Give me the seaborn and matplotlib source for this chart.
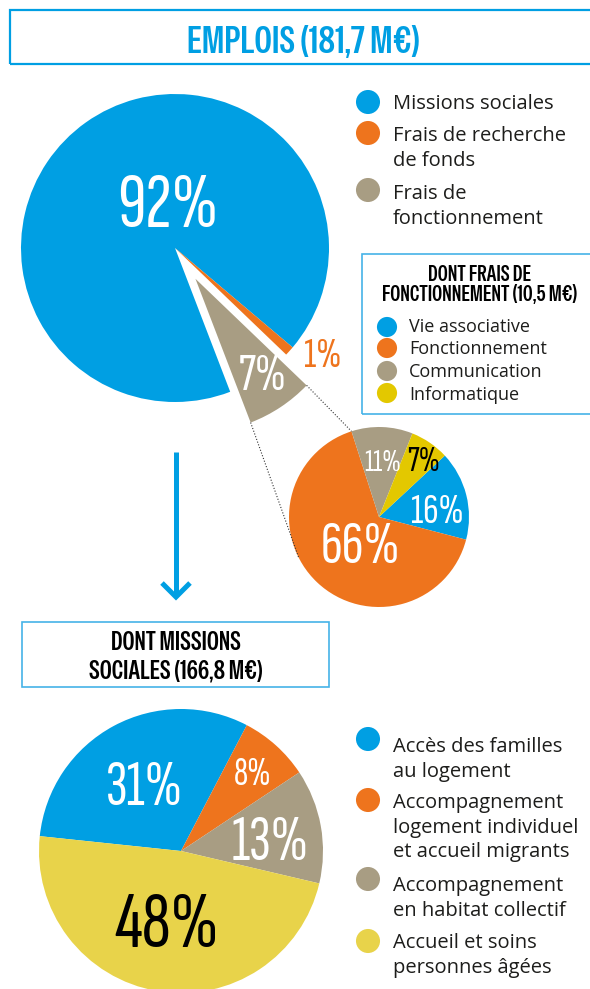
import numpy as np
import matplotlib
matplotlib.use('Agg')
import matplotlib.pyplot as plt
from matplotlib.patches import Rectangle
import seaborn as sns

# colours
BLUE = '#009fe3'
ORANGE = '#ee741d'
GREY = '#a89d83'
YELLOW_IT = '#e3c800'
YELLOW = '#e8d34a'
FRAME = '#45b3e8'

# data
emplois_total = '181,7 M€'
emplois_labels = ['Missions sociales', 'Frais de recherche\nde fonds', 'Frais de\nfonctionnement']
emplois_pct = [92, 1, 7]
emplois_colors = [BLUE, ORANGE, GREY]

fonct_total = '10,5 M€'
fonct_labels = ['Vie associative', 'Fonctionnement', 'Communication', 'Informatique']
fonct_pct = [16, 66, 11, 7]
fonct_colors = [BLUE, ORANGE, GREY, YELLOW_IT]

missions_total = '166,8 M€'
missions_labels = ['Accès des familles\nau logement',
                   'Accompagnement\nlogement individuel\net accueil migrants',
                   'Accompagnement\nen habitat collectif',
                   'Accueil et soins\npersonnes âgées']
missions_pct = [31, 8, 13, 48]
missions_colors = [BLUE, ORANGE, GREY, YELLOW]

sns.set_theme(style='white')
plt.rcParams['font.family'] = ['Open Sans', 'DejaVu Sans']
NUMF = ['Sofia Sans Extra Condensed', 'DejaVu Sans']
HEADF = ['Special Gothic Condensed One', 'DejaVu Sans']

W, H = 590, 989
fig = plt.figure(figsize=(W / 100, H / 100), dpi=100)
ax = fig.add_axes([0, 0, 1, 1])


def Y(y):
    # image rows -> axis units (y up)
    return H - y


def pct_text(x, y, val, size, color):
    ax.text(x, Y(y), f'{val}%', fontsize=size, color=color, family=NUMF,
            ha='center', va='baseline')


def legend_block(x_dot, x_txt, dots_y, base_y, labels, colors, step, size, dot_s):
    ax.scatter([x_dot] * len(labels), [Y(v) for v in dots_y], s=dot_s, c=colors,
               linewidths=0, zorder=5)
    for lab, by in zip(labels, base_y):
        for i, line in enumerate(lab.split('\n')):
            ax.text(x_txt, Y(by + i * step), line, fontsize=size, color='#1d1d1b',
                    ha='left', va='baseline')


# main pie
R1, C1 = 154, (175, 248)
w1, _ = ax.pie(emplois_pct, colors=emplois_colors, startangle=291, counterclock=False,
               explode=[0, 0, 0.24 * R1], radius=R1, center=(C1[0], Y(C1[1])),
               wedgeprops=dict(linewidth=0))
pct_text(168, 227, emplois_pct[0], 57, 'white')
pct_text(323, 367, emplois_pct[1], 31, ORANGE)
pct_text(263, 390, emplois_pct[2], 38, 'white')

# operating costs pie
R2, C2 = 90, (379, 517)
w2, _ = ax.pie(fonct_pct, colors=fonct_colors, startangle=43, counterclock=False,
               radius=R2, center=(C2[0], Y(C2[1])), wedgeprops=dict(linewidth=0))
pct_text(437, 523, fonct_pct[0], 31, 'white')
pct_text(360, 563, fonct_pct[1], 44, 'white')
pct_text(383, 471, fonct_pct[2], 23, 'white')
pct_text(424, 471, fonct_pct[3], 26, 'black')

# social missions pie
R3, C3 = 142, (181, 851)
w3, _ = ax.pie(missions_pct, colors=missions_colors, startangle=174, counterclock=False,
               radius=R3, center=(C3[0], Y(C3[1])), wedgeprops=dict(linewidth=0))
pct_text(144, 805, missions_pct[0], 46, 'white')
pct_text(253, 785, missions_pct[1], 29, 'white')
pct_text(270, 860, missions_pct[2], 46, 'white')
pct_text(167, 947, missions_pct[3], 59, 'black')

# dotted connectors from the exploded wedge to the zoom pie
g = w1[2]
small_gray = w2[2]
a_top = np.radians(small_gray.theta2)
a_low = np.radians(207)
for th, ang in [(g.theta2, a_top), (g.theta1, a_low)]:
    t = np.radians(th)
    x0 = g.center[0] + g.r * np.cos(t)
    y0 = g.center[1] + g.r * np.sin(t)
    x1 = w2[0].center[0] + R2 * np.cos(ang)
    y1 = w2[0].center[1] + R2 * np.sin(ang)
    ax.plot([x0, x1], [y0, y1], color='#333333', lw=0.8, ls=(0, (1, 1.6)), zorder=1)

ax.set_xlim(0, W)
ax.set_ylim(0, H)
ax.set_aspect('auto')
ax.axis('off')

# title box
ax.add_patch(Rectangle((9.5, Y(64)), 600, 54, fill=False, ec=BLUE, lw=1.6, clip_on=False))
ax.text(303, Y(53), f'EMPLOIS ({emplois_total})', fontsize=27, color=BLUE,
        family=HEADF, ha='center', va='baseline')

# main legend
legend_block(368, 393, [102, 133, 190], [109, 141, 199], emplois_labels, emplois_colors,
             24.5, 14.5, 300)

# operating costs box
ax.add_patch(Rectangle((362, Y(414)), 240, 160, fill=False, ec=FRAME, lw=1.2, clip_on=False))
ax.text(480, Y(281), 'DONT FRAIS DE', fontsize=15.5, family=HEADF,
        color='black', ha='center', va='baseline')
ax.text(480, Y(301), f'FONCTIONNEMENT ({fonct_total})', fontsize=15.5, family=HEADF,
        color='black', ha='center', va='baseline')
legend_block(387, 409, [327, 348, 371, 393], [332, 354, 377, 400], fonct_labels,
             fonct_colors, 22, 13, 210)

# arrow
ax.plot([176, 176], [Y(452), Y(595)], color=BLUE, lw=3.6, solid_capstyle='butt')
ax.plot([162, 176, 190], [Y(583), Y(597), Y(583)], color=BLUE, lw=3.6,
        solid_joinstyle='miter', solid_capstyle='butt')

# social missions box
ax.add_patch(Rectangle((22, Y(687)), 307, 65, fill=False, ec=FRAME, lw=1.2))
ax.text(176, Y(650), 'DONT MISSIONS', fontsize=18.5, family=HEADF,
        color='black', ha='center', va='baseline')
ax.text(176, Y(678), f'SOCIALES ({missions_total})', fontsize=18.5, family=HEADF,
        color='black', ha='center', va='baseline')

legend_block(368, 393, [739, 800, 879, 941], [752, 808, 891, 948], missions_labels,
             missions_colors, 24.5, 14.5, 300)

fig.savefig('out.png', dpi=100, facecolor='white')
